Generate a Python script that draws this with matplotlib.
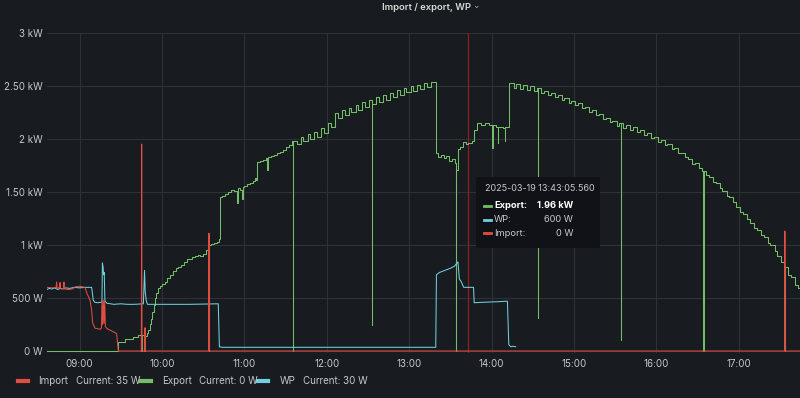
import matplotlib
matplotlib.use('Agg')
import matplotlib.pyplot as plt
import matplotlib.dates as mdates
import pandas as pd
from matplotlib.patches import FancyBboxPatch
from matplotlib.lines import Line2D

DAY = "2025-03-19 "

# Import from grid (W)
import_pts = [
    ("08:36:20", 600), ("08:40", 595), ("08:43:00", 600), ("08:43:20", 650), ("08:43:40", 590),
    ("08:45:30", 600), ("08:45:50", 645), ("08:46:10", 585), ("08:48:20", 590), ("08:48:40", 650),
    ("08:49:00", 585), ("08:52", 580), ("08:55", 585), ("08:57", 605), ("09:00", 610),
    ("09:04", 600), ("09:05:20", 545), ("09:07:40", 480), ("09:08:50", 385), ("09:09:35", 265),
    ("09:11:15", 215), ("09:15", 205), ("09:16:00", 215), ("09:16:20", 470), ("09:16:50", 250),
    ("09:17:20", 480), ("09:17:50", 260), ("09:18:20", 470), ("09:18:50", 230), ("09:19:40", 215),
    ("09:21", 205), ("09:24", 185), ("09:27", 165), ("09:28:15", 0),
    ("09:45:00", 0), ("09:45:15", 1950), ("09:45:30", 0),
    ("09:47:30", 0), ("09:47:40", 220), ("09:47:50", 0),
    ("10:34:00", 0), ("10:34:15", 1110), ("10:34:30", 0),
    ("17:33:15", 0), ("17:33:30", 1130), ("17:33:45", 0), ("17:44:30", 0),
]

# Export to grid (W)
export_pts = [
    ("08:36:20", 0), ("09:28:00", 85), ("09:33", 113), ("09:39", 132), ("09:42:30", 151),
    ("09:44:45", 0), ("09:45:10", 150), ("09:47:15", 0), ("09:47:45", 140),
    ("09:49", 170), ("09:50", 198), ("09:51", 250), ("09:52", 300), ("09:53", 370),
    ("09:54", 434), ("09:55", 500), ("09:56", 550), ("09:57", 590), ("09:58:30", 610),
    ("10:00", 630), ("10:02", 650), ("10:04", 690), ("10:06", 716), ("10:08", 750),
    ("10:10", 780), ("10:12", 795), ("10:14", 815), ("10:16", 840), ("10:18", 865),
    ("10:20", 870), ("10:22", 886), ("10:24", 895), ("10:26", 905), ("10:28", 900),
    ("10:30", 914), ("10:32", 950), ("10:33:30", 990), ("10:34:10", 0), ("10:34:35", 995),
    ("10:36", 1005), ("10:38", 1015), ("10:40", 1030), ("10:41:30", 1056), ("10:42", 1451),
    ("10:44", 1465), ("10:46", 1480), ("10:48", 1500), ("10:50", 1517), ("10:52:30", 1505),
    ("10:54:30", 1395), ("10:55:10", 1536), ("10:57", 1515), ("10:58", 1430), ("10:58:40", 1545),
    ("11:00", 1555), ("11:02", 1570), ("11:04", 1583), ("11:06", 1600), ("11:07:30", 1630),
    ("11:08:30", 1610), ("11:09:10", 1781), ("11:11:30", 1790), ("11:13:30", 1800),
    ("11:15:30", 1819), ("11:16:40", 1706), ("11:17:30", 1828), ("11:19:30", 1840),
    ("11:21:30", 1850), ("11:24", 1866), ("11:26", 1880), ("11:28", 1894), ("11:30:30", 1920),
    ("11:32:30", 1941), ("11:34:30", 1979), ("11:35:20", 0), ("11:35:45", 1979),
    ("11:38", 1955), ("11:41", 2020), ("11:43", 1975), ("11:46", 2045), ("11:48", 2000),
    ("11:51", 2065), ("11:53", 2020), ("11:56", 2100), ("11:58", 2055), ("12:01", 2150),
    ("12:03", 2110), ("12:06", 2245), ("12:08", 2200), ("12:11", 2270), ("12:13", 2225),
    ("12:16", 2295), ("12:18", 2250), ("12:21", 2320), ("12:23", 2275), ("12:26", 2345),
    ("12:28", 2300), ("12:31", 2370), ("12:32:50", 245), ("12:33:15", 2325), ("12:36", 2395),
    ("12:38", 2350), ("12:41", 2415), ("12:43", 2370), ("12:46", 2435), ("12:48", 2390),
    ("12:51", 2460), ("12:53", 2415), ("12:56", 2480), ("12:58", 2440), ("13:01", 2495),
    ("13:03", 2455), ("13:06", 2510), ("13:08", 2470), ("13:11", 2530), ("13:13", 2490),
    ("13:16", 2535), ("13:19:20", 1866), ("13:21", 1830), ("13:23", 1850), ("13:25", 1815),
    ("13:27", 1840), ("13:29", 1795), ("13:31", 1810), ("13:33", 1770), ("13:34:00", 0),
    ("13:34:25", 1710), ("13:35:40", 1900), ("13:37", 1923), ("13:39", 1970), ("13:41", 1950),
    ("13:43", 1960), ("13:46", 1975), ("13:47:30", 2083), ("13:49", 2149), ("13:52", 2130),
    ("13:55", 2149), ("13:58", 2130), ("14:00:10", 1913), ("14:00:40", 2130), ("14:03", 2110),
    ("14:04:30", 1960), ("14:05", 2110), ("14:08", 2100), ("14:09:30", 1980), ("14:10", 2110),
    ("14:13", 2526), ("14:16", 2480), ("14:18", 2515), ("14:21", 2470), ("14:23", 2505),
    ("14:26", 2460), ("14:28", 2495), ("14:31", 2450), ("14:33", 2475), ("14:33:40", 311),
    ("14:34:05", 2475), ("14:36", 2430), ("14:38", 2455), ("14:41", 2410), ("14:43", 2432),
    ("14:46", 2390), ("14:48", 2410), ("14:51", 2365), ("14:53", 2385), ("14:56", 2340),
    ("14:58", 2360), ("15:01", 2315), ("15:03", 2335), ("15:06", 2290), ("15:08", 2300),
    ("15:11", 2255), ("15:13", 2270), ("15:16", 2225), ("15:18", 2235), ("15:21", 2190),
    ("15:23", 2200), ("15:26", 2155), ("15:28", 2165), ("15:31", 2120), ("15:33", 2150),
    ("15:34:00", 104), ("15:34:25", 2150), ("15:36", 2105), ("15:38", 2130), ("15:41", 2085),
    ("15:43", 2110), ("15:46", 2065), ("15:48", 2083), ("15:51", 2040), ("15:53", 2050),
    ("15:56", 2005), ("15:58", 2015), ("16:01", 1970), ("16:03", 1985), ("16:06", 1940),
    ("16:08", 1950), ("16:11", 1905), ("16:13", 1910), ("16:16", 1865), ("16:18", 1870),
    ("16:21", 1825), ("16:23", 1810), ("16:26", 1765), ("16:28", 1770), ("16:31", 1725),
    ("16:33", 1700), ("16:34:00", 0), ("16:34:25", 1700), ("16:36", 1655), ("16:38", 1640),
    ("16:41", 1595), ("16:43", 1580), ("16:46", 1535), ("16:48", 1510), ("16:51", 1465),
    ("16:53", 1450), ("16:56", 1400), ("16:58", 1360), ("17:01", 1310), ("17:03", 1290),
    ("17:06", 1240), ("17:08", 1210), ("17:11", 1160), ("17:13", 1140), ("17:16", 1090),
    ("17:18", 1070), ("17:21", 1020), ("17:23", 1000), ("17:26", 940), ("17:28", 900),
    ("17:31", 840), ("17:33", 790), ("17:33:30", 0), ("17:33:55", 790), ("17:36", 720),
    ("17:38", 700), ("17:41", 620), ("17:43", 590), ("17:44:30", 540),
]

# Heat pump (WP) consumption (W)
wp_pts = [
    ("08:36:20", 580), ("08:38", 590), ("08:40", 585), ("08:42", 595), ("08:44", 580),
    ("08:46", 590), ("08:48", 585), ("08:50", 595), ("08:53", 590), ("08:56", 600),
    ("09:00", 595), ("09:04", 600), ("09:08:50", 600), ("09:10:00", 480), ("09:11", 460),
    ("09:13", 455), ("09:16:20", 460), ("09:16:40", 830), ("09:17:10", 790), ("09:17:30", 720),
    ("09:18:00", 740), ("09:18:30", 470), ("09:20", 450), ("09:25", 440), ("09:30", 445),
    ("09:35", 440), ("09:40", 440), ("09:46:30", 445), ("09:47:20", 760), ("09:47:50", 560),
    ("09:48:40", 470), ("09:49:30", 440), ("10:00", 440), ("10:20", 440), ("10:41:00", 445),
    ("10:41:50", 40), ("10:44", 35), ("11:30", 35), ("12:30", 35), ("13:19:20", 35),
    ("13:19:50", 719), ("13:22", 740), ("13:26", 760), ("13:30", 780), ("13:33", 800),
    ("13:35:30", 840), ("13:36:30", 680), ("13:38", 650), ("13:39:40", 600), ("13:44", 600),
    ("13:46:50", 600), ("13:47:20", 455), ("13:55", 460), ("14:05", 465), ("14:11:30", 470),
    ("14:12:30", 60), ("14:14", 40), ("14:15:30", 45), ("14:17:30", 40),
]

y_ticks = [0, 500, 1000, 1500, 2000, 2500, 3000]
y_labels = ['0 W', '500 W', '1 kW', '1.50 kW', '2 kW', '2.50 kW', '3 kW']
x_ticks = ['09:00', '10:00', '11:00', '12:00', '13:00', '14:00', '15:00', '16:00', '17:00']

hover_time = "13:43:05.560"
tooltip_rows = [('Export:', '1.96 kW', 'export', True),
                ('WP:', '600 W', 'wp', False),
                ('Import:', '0 W', 'import', False)]
legend_items = [('Import', 'Current: 35 W', 'import'),
                ('Export', 'Current: 0 W', 'export'),
                ('WP', 'Current: 30 W', 'wp')]

colors = {
    'import': '#E24D42',
    'export': '#73BF69',
    'wp': '#6ED0E0',
    'bg': '#181b1f',
    'grid': '#2d3035',
    'text': '#c7c8d0',
}


def to_series(pts):
    t = pd.to_datetime([DAY + (p[0] if len(p[0]) > 5 else p[0] + ":00") for p in pts])
    v = [p[1] for p in pts]
    return t, v


plt.rcParams['font.family'] = ['Inter', 'DejaVu Sans']

W, H = 800, 398
fig = plt.figure(figsize=(W / 100, H / 100), dpi=100, facecolor=colors['bg'])

ax_top, ax_bot, ax_left = 32.7, 352.5, 47
ax = fig.add_axes([ax_left / W, (H - ax_bot) / H, (W - ax_left) / W, (ax_bot - ax_top) / H])
ax.set_facecolor(colors['bg'])

t_exp, v_exp = to_series(export_pts)
t_wp, v_wp = to_series(wp_pts)
t_imp, v_imp = to_series(import_pts)

ax.plot(t_exp, v_exp, color=colors['export'], lw=0.75, drawstyle='steps-post', zorder=3)
ax.plot(t_wp, v_wp, color=colors['wp'], lw=0.75, zorder=4)
ax.plot(t_imp, v_imp, color=colors['import'], lw=0.75, zorder=5)

hover = pd.to_datetime(DAY + hover_time)
ax.axvline(hover, color='#8e1f1f', lw=0.9, zorder=2)

ax.set_xlim(pd.to_datetime(DAY + "08:36:20"), pd.to_datetime(DAY + "17:44:30"))
ax.set_ylim(-14, 3000)

ax.set_yticks(y_ticks)
ax.set_yticklabels(y_labels)
ax.set_xticks(pd.to_datetime([DAY + t + ":00" for t in x_ticks]))
ax.xaxis.set_major_formatter(mdates.DateFormatter('%H:%M'))
ax.tick_params(colors=colors['text'], labelsize=7, length=0)
ax.tick_params(axis='y', pad=3)
ax.tick_params(axis='x', pad=5)
ax.grid(True, color=colors['grid'], lw=0.8, zorder=0)
ax.set_axisbelow(True)
for s in ax.spines.values():
    s.set_visible(False)

# Title
fig.text(382 / W, 1 - 7 / H, 'Import / export, WP', fontsize=6.8, color='#d8d9da',
         weight='semibold', va='center', ha='left')
fig.text(472 / W, 1 - 6 / H, '⌄', fontsize=6.5, color='#a0a2aa', va='center', ha='left',
         family=['DejaVu Sans'])


def fx(px):
    return px / W


def fy(py):
    return 1 - py / H


# Tooltip
box = FancyBboxPatch((fx(476), fy(248)), fx(600) - fx(476), fy(177) - fy(248),
                     boxstyle='round,pad=0,rounding_size=0.004', transform=fig.transFigure,
                     facecolor='#111217', edgecolor='none', zorder=10)
fig.patches.append(box)
fig.text(fx(485), fy(188), '2025-03-19 ' + hover_time, fontsize=6.5, color=colors['text'],
         va='center', ha='left', zorder=11)
for i, (name, val, key, bold) in enumerate(tooltip_rows):
    yy = fy(206 + i * 13.5)
    fig.add_artist(Line2D([fx(484), fx(491)], [yy, yy], color=colors[key], lw=2,
                          transform=fig.transFigure, zorder=11))
    fw = 'bold' if bold else 'normal'
    tc = 'white' if bold else colors['text']
    fig.text(fx(494), yy, name, fontsize=6.7, color=tc, weight=fw, va='center', ha='left', zorder=11)
    fig.text(fx(573), yy, val, fontsize=6.7, color=tc, weight=fw, va='center', ha='right', zorder=11)

# Legend
legend_x = [(18, 38.5, 76), (141, 162, 199), (258, 280, 303)]
for (name, cur, key), (mx, nx, cx) in zip(legend_items, legend_x):
    yy = fy(381)
    fig.add_artist(Line2D([fx(mx), fx(mx + 10)], [yy, yy], color=colors[key], lw=3,
                          transform=fig.transFigure))
    fig.text(fx(nx), yy, name, fontsize=7, color=colors['text'], va='center', ha='left')
    fig.text(fx(cx), yy, cur, fontsize=7, color=colors['text'], va='center', ha='left')

fig.savefig('out.png', dpi=100, facecolor=colors['bg'])
